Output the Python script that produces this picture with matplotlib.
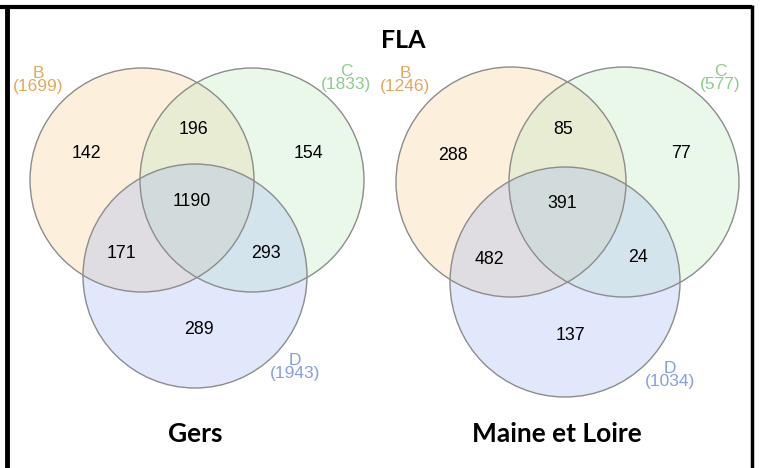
import matplotlib
matplotlib.use("Agg")
import matplotlib.pyplot as plt
from matplotlib.patches import Circle

# region counts: B only, C only, B&C, D only, B&D, C&D, B&C&D
gers_counts = [142, 154, 196, 289, 171, 293, 1190]
maine_counts = [288, 77, 85, 137, 482, 24, 391]
gers_totals = [1699, 1833, 1943]
maine_totals = [1246, 577, 1034]
set_names = ["B", "C", "D"]
panel_titles = ["Gers", "Maine et Loire"]
main_title = "FLA"

fill_cols = ["#f8cd8e", "#bce8bc", "#a2b6f2"]
label_cols = ["#e3a85e", "#8fcb8f", "#8a9de0"]

fig = plt.figure(figsize=(7.6, 4.68), dpi=100)
ax = fig.add_axes([0, 0, 1, 1])
ax.set_xlim(0, 760)
ax.set_ylim(468, 0)
ax.axis("off")

# frame
ax.plot([0, 752], [6.5, 6.5], color="black", lw=3.0, solid_capstyle="butt")
ax.plot([7, 7], [5, 468], color="black", lw=3.5, solid_capstyle="butt")
ax.plot([751.5, 751.5], [5, 468], color="black", lw=2.5, solid_capstyle="butt")


def draw_venn(counts, totals, centers, r, count_pos, label_pos, title, title_x):
    for (cx, cy), col in zip(centers, fill_cols):
        ax.add_patch(Circle((cx, cy), r, facecolor=col, alpha=0.3, edgecolor="none"))
    for cx, cy in centers:
        ax.add_patch(Circle((cx, cy), r, facecolor="none", edgecolor="#8c8c8c", lw=1.0))
    for n, (x, y) in zip(counts, count_pos):
        ax.text(x, y, str(n), ha="center", va="center", fontsize=12.8,
                family="Liberation Sans", color="black")
    for name, tot, (x, y), col in zip(set_names, totals, label_pos, label_cols):
        ax.text(x, y, name + "\n(" + str(tot) + ")", ha="center", va="center",
                fontsize=12.5, family="Liberation Sans", color=col, linespacing=0.8)
    ax.text(title_x, 434, title, ha="center", va="center", fontsize=19,
            family="Lato", fontweight="bold")


draw_venn(gers_counts, gers_totals,
          [(142, 180), (252, 180), (195, 276)], 112,
          [(86, 153), (308, 153), (193, 129), (199, 329), (121, 254), (266, 254), (192, 202)],
          [(38, 80), (346, 78), (295, 367)],
          panel_titles[0], 195)

draw_venn(maine_counts, maine_totals,
          [(511, 182), (624, 182), (565, 282)], 115,
          [(453, 155), (681, 153), (563, 130), (570, 336), (489, 259), (638, 258), (562, 203)],
          [(405, 80), (720, 78), (670, 375)],
          panel_titles[1], 557)

ax.text(403, 40, main_title, ha="center", va="center", fontsize=18,
        family="Lato", fontweight="bold")

fig.savefig("out.png", dpi=100)
